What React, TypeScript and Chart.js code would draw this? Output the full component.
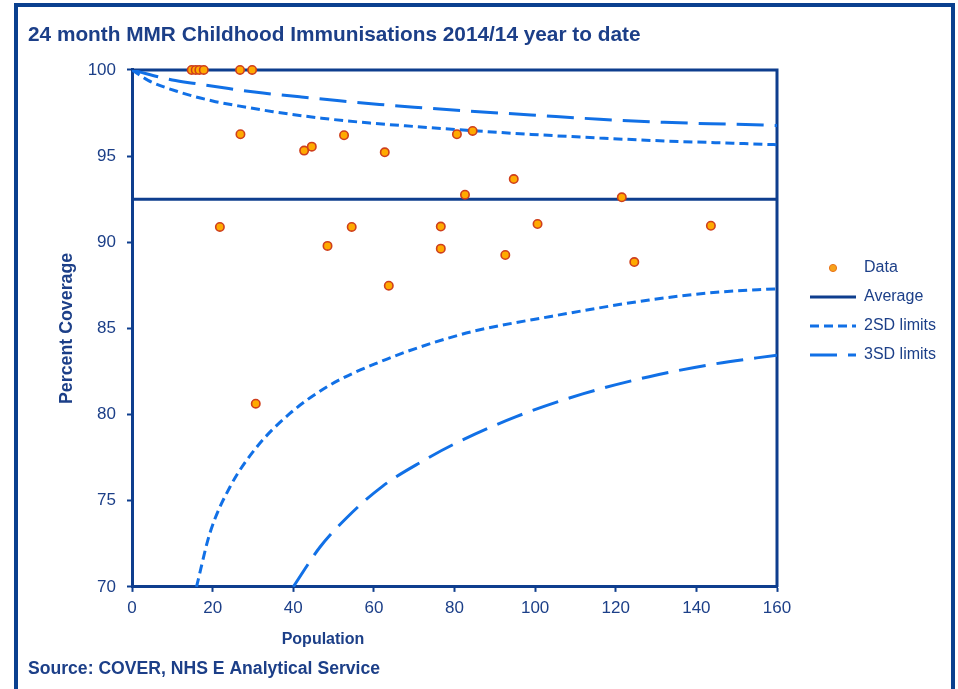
import React, { useEffect, useRef } from 'react';
import { Chart, registerables } from 'chart.js';

Chart.register(...registerables);

// ---- Text ----
const TITLE = '24 month MMR Childhood Immunisations 2014/14 year to date';
const SOURCE = 'Source: COVER, NHS E Analytical Service';
const X_TITLE = 'Population';
const Y_TITLE = 'Percent Coverage';
const LEGEND_LABELS = ['Data', 'Average', '2SD limits', '3SD limits'];

// ---- Axes ----
const X_MIN = 0;
const X_MAX = 160;
const X_STEP = 20;
const Y_MIN = 70;
const Y_MAX = 100;
const Y_STEP = 5;

// ---- Data points (population, percent coverage) ----
const dataPopulation = [
  14.8, 15.8, 16.7, 17.8, 26.8, 29.8,
  26.9, 42.7, 44.6, 52.6, 62.7, 80.6, 84.5,
  94.7, 82.6, 121.5,
  21.8, 54.5, 76.6, 100.6, 143.6,
  48.5, 76.6, 92.6, 124.6, 63.7, 30.7,
];
const dataCoverage = [
  100, 100, 100, 100, 100, 100,
  96.27, 95.32, 95.55, 96.21, 95.22, 96.27, 96.46,
  93.67, 92.76, 92.61,
  90.89, 90.89, 90.91, 91.06, 90.96,
  89.79, 89.63, 89.26, 88.85, 87.48, 80.63,
];

// ---- Average ----
const averageX = [0, 160];
const averageY = [92.5, 92.5];

// ---- 2SD limits ----
const upper2X = [0, 4, 12, 20, 28, 35, 47, 59, 70, 83, 99, 116, 132, 149, 160];
const upper2Y = [100, 99.4, 98.7, 98.2, 97.85, 97.58, 97.2, 96.92, 96.72, 96.5, 96.26, 96.05, 95.88, 95.75, 95.66];
const lower2X = [16, 19.3, 24.3, 30.9, 39.1, 49, 61.4, 73.8, 85, 103.5, 128.3, 145, 160];
const lower2Y = [70, 73.1, 75.8, 78.1, 80.05, 81.7, 83.05, 84.1, 84.85, 85.68, 86.65, 87.1, 87.3];

// ---- 3SD limits ----
const upper3X = [0, 10, 16, 24, 32.5, 41.6, 51.5, 61.4, 70, 83, 99, 116, 132, 149, 160];
const upper3Y = [100, 99.42, 99.2, 98.92, 98.66, 98.44, 98.21, 98.0, 97.84, 97.62, 97.39, 97.14, 96.96, 96.85, 96.78];
const lower3X = [40, 46.6, 53.2, 62.2, 72.1, 80, 95.3, 111.8, 128.3, 144.8, 160];
const lower3Y = [70, 72.3, 74.0, 75.85, 77.3, 78.3, 79.88, 81.2, 82.2, 82.95, 83.45];

// ---- Styles ----
const FONT = "'Liberation Sans', Arial, Helvetica, sans-serif";
const NAVY = '#0e3e8e';
const TEXT = '#1c3f88';
const LIMIT_BLUE = '#1170e6';
const DOT_FILL = '#ffaa00';
const DOT_BORDER = '#cf3f1c';
const DASH_2SD = [9, 5];
const DASH_3SD = [27, 11];

const zip = (xs: number[], ys: number[]) => xs.map((x, i) => ({ x, y: ys[i] }));

function makeDot(): HTMLCanvasElement {
  const c = document.createElement('canvas');
  c.width = 10;
  c.height = 10;
  const g = c.getContext('2d')!;
  g.beginPath();
  g.arc(5, 5, 3.6, 0, Math.PI * 2);
  g.fillStyle = '#f7a21b';
  g.fill();
  g.lineWidth = 1;
  g.strokeStyle = '#e8741c';
  g.stroke();
  return c;
}

export default function App() {
  const ref = useRef<HTMLCanvasElement | null>(null);

  useEffect(() => {
    if (!ref.current) return;
    const dot = makeDot();

    const legendFit = {
      id: 'legendFit',
      beforeInit(chart: any) {
        const lg = chart.legend;
        if (!lg) return;
        const orig = lg.fit;
        lg.fit = function () {
          orig.call(this);
          this.width = 181;
        };
      },
      afterLayout(chart: any) {
        const lg = chart.legend;
        if (!lg) return;
        lg.left = 797;
        lg.right = 958;
        lg.top = 247;
        lg.bottom = 689;
      },
    };

    const frame = {
      id: 'frame',
      beforeDraw(chart: any) {
        const ctx = chart.ctx;
        ctx.save();
        ctx.strokeStyle = '#0a408f';
        ctx.lineWidth = 4;
        ctx.strokeRect(16, 5, 937, 720);
        ctx.restore();
      },
      beforeDatasetsDraw(chart: any) {
        const { ctx, chartArea } = chart;
        ctx.save();
        ctx.strokeStyle = NAVY;
        ctx.lineWidth = 3;
        ctx.beginPath();
        ctx.moveTo(chartArea.left, chartArea.top);
        ctx.lineTo(chartArea.right, chartArea.top);
        ctx.lineTo(chartArea.right, chartArea.bottom);
        ctx.stroke();
        ctx.restore();
      },
      afterDraw(chart: any) {
        const ctx = chart.ctx;
        ctx.save();
        ctx.font = `bold 16px ${FONT}`;
        ctx.fillStyle = TEXT;
        ctx.textAlign = 'center';
        ctx.textBaseline = 'middle';
        ctx.fillText(X_TITLE, 323, 640);
        ctx.restore();
      },
    };

    const chart = new Chart(ref.current, {
      type: 'scatter',
      data: {
        datasets: [
          {
            label: LEGEND_LABELS[0],
            data: zip(dataPopulation, dataCoverage),
            pointRadius: 4.2,
            pointBorderWidth: 1.6,
            pointBackgroundColor: DOT_FILL,
            pointBorderColor: DOT_BORDER,
            clip: false,
            order: 0,
          },
          {
            label: LEGEND_LABELS[1],
            data: zip(averageX, averageY),
            showLine: true,
            pointRadius: 0,
            borderColor: NAVY,
            borderWidth: 3,
            order: 1,
          },
          {
            label: LEGEND_LABELS[2],
            data: zip(upper2X, upper2Y),
            showLine: true,
            pointRadius: 0,
            borderColor: LIMIT_BLUE,
            borderWidth: 3,
            borderDash: DASH_2SD,
            cubicInterpolationMode: 'monotone',
            order: 2,
          },
          {
            label: LEGEND_LABELS[2] + ' (lower)',
            data: zip(lower2X, lower2Y),
            showLine: true,
            pointRadius: 0,
            borderColor: LIMIT_BLUE,
            borderWidth: 3,
            borderDash: DASH_2SD,
            cubicInterpolationMode: 'monotone',
            order: 2,
          },
          {
            label: LEGEND_LABELS[3],
            data: zip(upper3X, upper3Y),
            showLine: true,
            pointRadius: 0,
            borderColor: LIMIT_BLUE,
            borderWidth: 3,
            borderDash: DASH_3SD,
            cubicInterpolationMode: 'monotone',
            order: 3,
          },
          {
            label: LEGEND_LABELS[3] + ' (lower)',
            data: zip(lower3X, lower3Y),
            showLine: true,
            pointRadius: 0,
            borderColor: LIMIT_BLUE,
            borderWidth: 3,
            borderDash: DASH_3SD,
            cubicInterpolationMode: 'monotone',
            order: 3,
          },
        ],
      },
      options: {
        animation: false,
        responsive: false,
        events: [],
        layout: { padding: { left: 28, top: 5, right: 0, bottom: 0 } },
        scales: {
          x: {
            type: 'linear',
            min: X_MIN,
            max: X_MAX,
            afterFit: (s: any) => {
              s.height = 71.5;
            },
            border: { display: true, color: NAVY, width: 3 },
            grid: { drawOnChartArea: false, drawTicks: true, tickLength: 5, tickWidth: 2, tickColor: NAVY, color: NAVY },
            ticks: {
              stepSize: X_STEP,
              padding: 6,
              color: TEXT,
              font: { family: FONT, size: 17 },
              maxRotation: 0,
            },
          },
          y: {
            type: 'linear',
            min: Y_MIN,
            max: Y_MAX,
            afterFit: (s: any) => {
              s.width = 104;
            },
            border: { display: true, color: NAVY, width: 3 },
            grid: { drawOnChartArea: false, drawTicks: true, tickLength: 5, tickWidth: 2, tickColor: NAVY, color: NAVY },
            ticks: {
              stepSize: Y_STEP,
              padding: 11,
              color: TEXT,
              font: { family: FONT, size: 17 },
            },
            title: {
              display: true,
              text: Y_TITLE,
              color: TEXT,
              font: { family: FONT, size: 17.8, weight: 'bold' },
              padding: { top: 28.3, bottom: 0 },
            },
          },
        },
        plugins: {
          title: {
            display: true,
            text: TITLE,
            align: 'start',
            color: TEXT,
            font: { family: FONT, size: 20.8, weight: 'bold', lineHeight: 1.2 },
            padding: { top: 18, bottom: 22 },
          },
          subtitle: {
            display: true,
            position: 'bottom',
            text: SOURCE,
            align: 'start',
            color: TEXT,
            font: { family: FONT, size: 17.6, weight: 'bold', lineHeight: 1.2 },
            padding: { top: 0, bottom: 9.5 },
          },
          legend: {
            display: true,
            position: 'right',
            align: 'start',
            labels: {
              usePointStyle: true,
              pointStyleWidth: 46,
              boxHeight: 8,
              padding: 13,
              color: TEXT,
              font: { family: FONT, size: 16 },
              generateLabels: () => [
                { text: LEGEND_LABELS[0], pointStyle: dot, fillStyle: DOT_FILL, strokeStyle: DOT_BORDER, lineWidth: 0, hidden: false, datasetIndex: 0, fontColor: TEXT },
                { text: LEGEND_LABELS[1], pointStyle: 'line', fillStyle: NAVY, strokeStyle: NAVY, lineWidth: 3, lineDash: [], lineCap: 'butt', hidden: false, datasetIndex: 1, fontColor: TEXT },
                { text: LEGEND_LABELS[2], pointStyle: 'line', fillStyle: LIMIT_BLUE, strokeStyle: LIMIT_BLUE, lineWidth: 3, lineDash: DASH_2SD, lineCap: 'butt', hidden: false, datasetIndex: 2, fontColor: TEXT },
                { text: LEGEND_LABELS[3], pointStyle: 'line', fillStyle: LIMIT_BLUE, strokeStyle: LIMIT_BLUE, lineWidth: 3, lineDash: DASH_3SD, lineCap: 'butt', hidden: false, datasetIndex: 4, fontColor: TEXT },
              ],
            },
          },
          tooltip: { enabled: false },
        },
      } as any,
      plugins: [legendFit, frame],
    });

    return () => chart.destroy();
  }, []);

  return (
    <div style={{ position: 'absolute', left: 0, top: 0, width: 958, height: 689, overflow: 'hidden', background: '#ffffff' }}>
      <canvas ref={ref} width={958} height={689} style={{ display: 'block', width: 958, height: 689 }} />
    </div>
  );
}
